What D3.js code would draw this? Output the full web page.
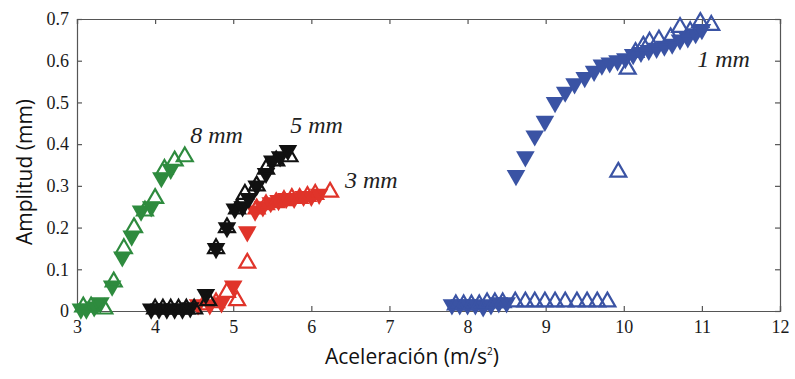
<!DOCTYPE html>
<html>
<head>
<meta charset="utf-8">
<script src="https://cdn.jsdelivr.net/npm/d3@7/dist/d3.min.js"></script>
<style>
  body { margin: 0; background: #fff; }
  .tick text { font-family: "Liberation Serif", "DejaVu Serif", serif; font-size: 18px; fill: #1a1a1a; }
</style>
</head>
<body>
<svg id="chart"></svg>
<script>
var width = 795, height = 379;

var xTicks = [3, 4, 5, 6, 7, 8, 9, 10, 11, 12];
var yTicks = [0, 0.1, 0.2, 0.3, 0.4, 0.5, 0.6, 0.7];

/* 8 mm */
var green_down = [[3.05,0.005],[3.12,0.005],[3.22,0.01],[3.3,0.02],[3.45,0.06],[3.58,0.13],[3.7,0.18],[3.82,0.24],[3.95,0.25],[4.08,0.32],[4.2,0.34]];
var green_up = [[3.08,0.01],[3.18,0.01],[3.35,0.005],[3.47,0.07],[3.6,0.15],[3.73,0.2],[3.87,0.24],[4.0,0.27],[4.12,0.34],[4.25,0.36],[4.38,0.37]];

/* 3 mm */
var red_down = [[4.55,0.015],[4.7,0.015],[4.85,0.02],[5.0,0.06],[5.18,0.19],[5.28,0.24],[5.38,0.25],[5.48,0.26],[5.58,0.265],[5.68,0.27],[5.78,0.27],[5.9,0.275],[6.0,0.275],[6.1,0.28]];
var red_up = [[4.62,0.015],[4.78,0.02],[4.92,0.045],[5.05,0.025],[5.18,0.115],[5.3,0.245],[5.42,0.255],[5.55,0.26],[5.65,0.265],[5.75,0.27],[5.85,0.27],[5.95,0.275],[6.05,0.28],[6.24,0.285]];

/* 5 mm */
var black_down = [[3.95,0.005],[4.05,0.005],[4.15,0.005],[4.25,0.005],[4.35,0.005],[4.45,0.008],[4.65,0.04],[4.78,0.15],[4.92,0.2],[5.02,0.245],[5.12,0.25],[5.2,0.27],[5.3,0.3],[5.42,0.33],[5.5,0.36],[5.6,0.37],[5.7,0.385]];
var black_up = [[4.0,0.005],[4.1,0.005],[4.2,0.005],[4.3,0.005],[4.4,0.005],[4.5,0.005],[4.68,0.025],[4.78,0.15],[4.92,0.2],[5.05,0.245],[5.15,0.28],[5.3,0.3],[5.42,0.34],[5.55,0.36],[5.72,0.37]];

/* 1 mm */
var blue_down = [[7.8,0.015],[7.9,0.015],[8.0,0.015],[8.1,0.015],[8.2,0.01],[8.3,0.015],[8.4,0.02],[8.5,0.02],
  [8.62,0.325],[8.74,0.37],[8.86,0.42],[8.99,0.455],[9.12,0.5],[9.25,0.525],[9.37,0.545],[9.5,0.56],[9.62,0.575],[9.72,0.59],[9.82,0.595],[9.92,0.6],[10.02,0.605],[10.12,0.615],[10.22,0.62],[10.32,0.625],[10.42,0.63],[10.52,0.635],[10.62,0.64],[10.72,0.65],[10.82,0.655],[10.92,0.665],[11.0,0.675]];
var blue_up = [[7.85,0.015],[7.95,0.015],[8.05,0.015],[8.15,0.015],[8.25,0.02],[8.35,0.02],[8.45,0.02],
  [8.61,0.022],[8.74,0.022],[8.86,0.022],[8.99,0.022],[9.12,0.022],[9.25,0.022],[9.4,0.022],[9.53,0.022],[9.66,0.022],[9.79,0.022],
  [9.93,0.333],[10.05,0.58],[10.15,0.62],[10.25,0.635],[10.33,0.645],[10.45,0.65],[10.6,0.655],[10.72,0.68],[10.85,0.67],[10.98,0.692],[11.12,0.685]];

var seriesNames = ["8 mm", "3 mm", "5 mm", "1 mm"];
var seriesColors = ["#2e8b3e", "#e0342a", "#111111", "#3a53a4"];
var seriesDown = [green_down, red_down, black_down, blue_down];
var seriesUp = [green_up, red_up, black_up, blue_up];
var labelPos = [[4.45, 0.402], [6.43, 0.294], [5.73, 0.426], [10.94, 0.585]];

var mLeft = 77, mRight = 780, mTop = 19, mBottom = 311;

var x = d3.scaleLinear().domain([3, 12]).range([mLeft, mRight]);
var y = d3.scaleLinear().domain([0, 0.7]).range([mBottom, mTop]);

var svg = d3.select("#chart")
  .attr("width", width)
  .attr("height", height);

/* Axes, ticks inward */
svg.append("g")
  .attr("transform", "translate(0," + mBottom + ")")
  .call(d3.axisBottom(x).tickValues(xTicks).tickSize(-5).tickPadding(9).tickFormat(d3.format("d")));
svg.append("g")
  .attr("transform", "translate(0," + mTop + ")")
  .call(d3.axisTop(x).tickValues(xTicks).tickSize(-5).tickFormat(""));
svg.append("g")
  .attr("transform", "translate(" + mLeft + ",0)")
  .call(d3.axisLeft(y).tickValues(yTicks).tickSize(-5).tickPadding(8).tickFormat(function (d) { return d === 0 ? "0" : d3.format(".1f")(d); }));
svg.append("g")
  .attr("transform", "translate(" + mRight + ",0)")
  .call(d3.axisRight(y).tickValues(yTicks).tickSize(-5).tickFormat(""));

svg.selectAll(".domain").attr("stroke", "#555").attr("stroke-width", 1.2);
svg.selectAll(".tick line").attr("stroke", "#555").attr("stroke-width", 1.2);

/* Markers */
var triDown = d3.symbol().type(d3.symbolTriangle).size(150);
var triUp = d3.symbol().type(d3.symbolTriangle).size(110);

var marks = svg.append("g").attr("class", "marks");

seriesNames.forEach(function (name, i) {
  var g = marks.append("g");
  g.selectAll(".down")
    .data(seriesDown[i]).enter()
    .append("path")
    .attr("class", "down")
    .attr("d", triDown)
    .attr("transform", d => "translate(" + x(d[0]) + "," + y(d[1]) + ") rotate(180)")
    .attr("fill", seriesColors[i]);
  g.selectAll(".up")
    .data(seriesUp[i]).enter()
    .append("path")
    .attr("class", "up")
    .attr("d", triUp)
    .attr("transform", d => "translate(" + x(d[0]) + "," + y(d[1]) + ")")
    .attr("fill", "none")
    .attr("stroke", seriesColors[i])
    .attr("stroke-width", 2.2);
});

/* Series labels */
svg.selectAll(".serie-label")
  .data(seriesNames).enter()
  .append("text")
  .attr("class", "serie-label")
  .attr("x", (d, i) => x(labelPos[i][0]))
  .attr("y", (d, i) => y(labelPos[i][1]))
  .attr("font-family", "Liberation Serif, DejaVu Serif, serif")
  .attr("font-style", "italic")
  .attr("font-size", 24)
  .attr("fill", "#222")
  .text(d => d);

/* Axis titles */
var xTitle = svg.append("text")
  .attr("x", 412)
  .attr("y", 364)
  .attr("text-anchor", "middle")
  .attr("font-family", "Open Sans, sans-serif")
  .attr("font-size", 21)
  .attr("fill", "#111")
  .text("Aceleración (m/s");
xTitle.append("tspan")
  .attr("font-size", 10)
  .attr("dy", -9)
  .text("2");
xTitle.append("tspan")
  .attr("dy", 9)
  .text(")");

svg.append("text")
  .attr("transform", "translate(32,172) rotate(-90)")
  .attr("text-anchor", "middle")
  .attr("font-family", "Open Sans, sans-serif")
  .attr("font-size", 21)
  .attr("fill", "#111")
  .text("Amplitud (mm)");
</script>
</body>
</html>
